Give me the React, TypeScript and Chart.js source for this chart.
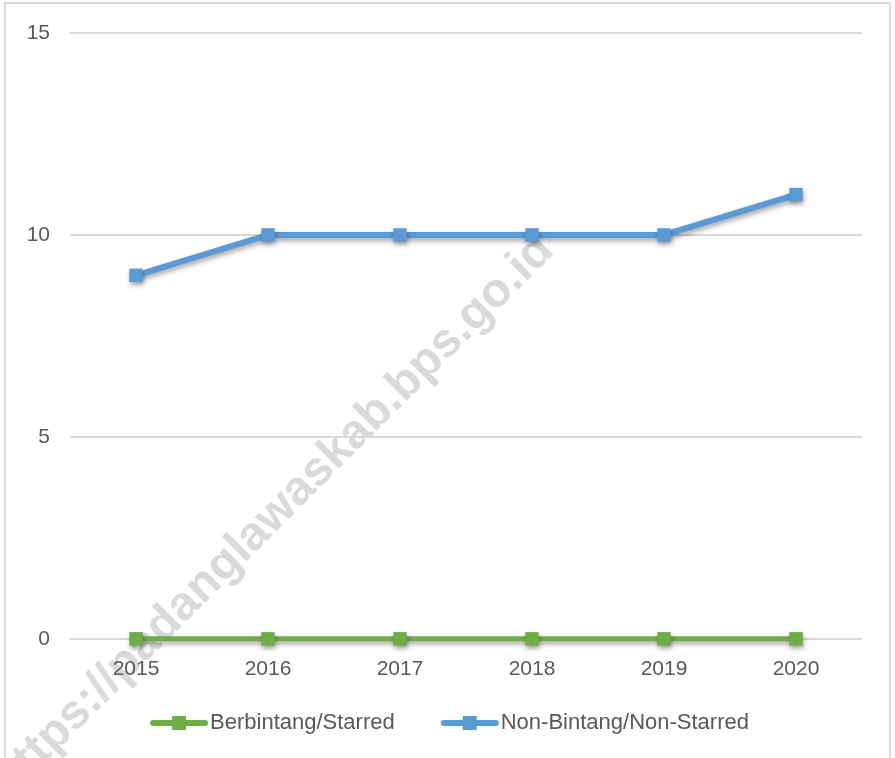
import React, { useEffect, useRef } from "react";
import { Chart, registerables } from "chart.js";

Chart.register(...registerables);

const years = ["2015", "2016", "2017", "2018", "2019", "2020"];
const starred = [0, 0, 0, 0, 0, 0];
const nonStarred = [9, 10, 10, 10, 10, 11];
const seriesNames = ["Berbintang/Starred", "Non-Bintang/Non-Starred"];
const seriesColors = ["#70AD47", "#5B9BD5"];
const yTicks = [0, 5, 10, 15];
const watermarkText = "https://padanglawaskab.bps.go.id";

const FONT = "'Liberation Sans', Arial, sans-serif";

function makeLegendImage(color: string): HTMLCanvasElement {
  const c = document.createElement("canvas");
  c.width = 60;
  c.height = 16;
  const ctx = c.getContext("2d")!;
  ctx.strokeStyle = color;
  ctx.lineWidth = 6;
  ctx.lineCap = "round";
  ctx.beginPath();
  ctx.moveTo(4, 8);
  ctx.lineTo(56, 8);
  ctx.stroke();
  ctx.fillStyle = color;
  ctx.fillRect(23, 1, 14, 14);
  return c;
}

const backgroundPlugin = {
  id: "bgWatermark",
  beforeDraw(chart: any) {
    const ctx = chart.ctx;
    ctx.save();
    ctx.fillStyle = "#ffffff";
    ctx.fillRect(0, 0, chart.width, chart.height);
    ctx.strokeStyle = "#d9d9d9";
    ctx.lineWidth = 2;
    ctx.strokeRect(5, 3, chart.width - 10, chart.height + 20);
    ctx.translate(546, 243);
    ctx.rotate(-Math.PI / 4);
    ctx.font = "bold 48px " + FONT;
    ctx.fillStyle = "#dadada";
    ctx.textAlign = "right";
    ctx.textBaseline = "middle";
    ctx.fillText(watermarkText, 0, 0);
    ctx.restore();
  },
};

const legendShiftPlugin = {
  id: "legendShift",
  afterLayout(chart: any) {
    const lg = chart.legend;
    if (!lg) return;
    lg.left += 23;
    lg.right += 23;
    lg.top -= 10;
    lg.bottom -= 10;
  },
};

const shadowPlugin = {
  id: "lineShadow",
  beforeDatasetDraw(chart: any) {
    const ctx = chart.ctx;
    ctx.save();
    ctx.shadowColor = "rgba(0,0,0,0.35)";
    ctx.shadowBlur = 5;
    ctx.shadowOffsetX = 1;
    ctx.shadowOffsetY = 3;
  },
  afterDatasetDraw(chart: any) {
    chart.ctx.restore();
  },
};

export default function App() {
  const ref = useRef<HTMLCanvasElement | null>(null);

  useEffect(() => {
    document.body.style.margin = "0";
    if (!ref.current) return;
    const legendImgs = seriesColors.map(makeLegendImage);
    const chart = new Chart(ref.current, {
      type: "line",
      data: {
        labels: years,
        datasets: [
          {
            label: seriesNames[0],
            data: starred,
            borderColor: seriesColors[0],
            backgroundColor: seriesColors[0],
            borderWidth: 5,
            pointStyle: "rect",
            pointRadius: 9.5,
            pointBorderWidth: 0,
            tension: 0,
            clip: false,
          },
          {
            label: seriesNames[1],
            data: nonStarred,
            borderColor: seriesColors[1],
            backgroundColor: seriesColors[1],
            borderWidth: 6,
            pointStyle: "rect",
            pointRadius: 9.5,
            pointBorderWidth: 0,
            tension: 0,
            clip: false,
          },
        ],
      },
      options: {
        responsive: false,
        animation: false,
        layout: { padding: { top: 33, right: 33, left: 0, bottom: 4 } },
        scales: {
          x: {
            offset: true,
            grid: { display: false, drawTicks: false },
            border: { display: false },
            ticks: {
              color: "#595959",
              font: { family: FONT, size: 21 },
              padding: 18,
              maxRotation: 0,
            },
          },
          y: {
            min: 0,
            max: 15,
            afterBuildTicks: (scale: any) => {
              scale.ticks = yTicks.map((v) => ({ value: v }));
            },
            afterFit: (scale: any) => {
              scale.width = 70;
            },
            grid: { color: "#d9d9d9", lineWidth: 2, drawTicks: false },
            border: { display: false },
            ticks: {
              color: "#595959",
              font: { family: FONT, size: 21 },
              padding: 20,
            },
          },
        },
        plugins: {
          tooltip: { enabled: false },
          legend: {
            position: "bottom",
            labels: {
              color: "#595959",
              font: { family: FONT, size: 22 },
              usePointStyle: true,
              pointStyleWidth: 40,
              padding: 22,
              generateLabels: (ch: any) =>
                ch.data.datasets.map((ds: any, i: number) => ({
                  text: i === 0 ? ds.label + "\u2003\u2002" : ds.label,
                  fillStyle: ds.backgroundColor,
                  strokeStyle: ds.borderColor,
                  lineWidth: 0,
                  pointStyle: legendImgs[i],
                  datasetIndex: i,
                  hidden: false,
                  fontColor: "#595959",
                })),
            },
          },
        },
      },
      plugins: [backgroundPlugin, shadowPlugin, legendShiftPlugin],
    });
    return () => chart.destroy();
  }, []);

  return (
    <div style={{ position: "absolute", left: 0, top: 0, width: 895, height: 758 }}>
      <canvas ref={ref} width={895} height={758} style={{ width: 895, height: 758 }} />
    </div>
  );
}
